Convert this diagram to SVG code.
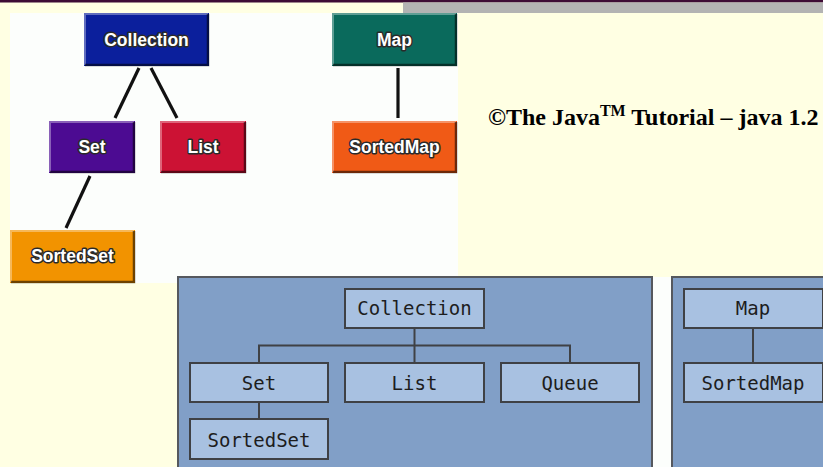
<svg xmlns="http://www.w3.org/2000/svg" width="823" height="467" viewBox="0 0 823 467">
<style>
.tb{font-family:"Liberation Sans",Arial,sans-serif;font-weight:bold;font-size:17.5px;fill:#fff;stroke:#2a2a2a;stroke-width:3;paint-order:stroke;stroke-linejoin:round;text-anchor:middle}
.hl{fill:none;stroke:#fff;stroke-opacity:0.35;stroke-width:2}
.sh{fill:none;stroke:#000;stroke-opacity:0.55;stroke-width:2.5}
.tl{stroke:#111;stroke-width:3.2;fill:none}
.bx{fill:#a8c1e1;stroke:#3f4145;stroke-width:2}
.tm{font-family:"DejaVu Sans Mono","Liberation Mono",monospace;font-size:19px;fill:#1d1d1d;text-anchor:middle}
.cn{stroke:#3f4145;stroke-width:2;fill:none}
.pn{fill:#819fc7;stroke:#55585e;stroke-width:2}
</style>
<rect x="0" y="0" width="823" height="467" fill="#ffffe3"/>
<rect x="0" y="0" width="823" height="2.5" fill="#3d0b35"/>
<rect x="403" y="2.5" width="420" height="10.5" fill="#b3b3b3"/>
<rect x="10" y="13" width="448" height="270" fill="#fcfefc"/>
<rect x="178" y="277" width="645" height="190" fill="#fcfefc"/>

<g id="top-connectors">
<line class="tl" x1="139" y1="68" x2="115" y2="118"/>
<line class="tl" x1="151" y1="68" x2="177" y2="118"/>
<line class="tl" x1="90" y1="176" x2="66" y2="228"/>
<line class="tl" x1="398" y1="68" x2="398" y2="118"/>
</g>

<g id="top-collection">
<rect x="84" y="13" width="125" height="53" fill="#0b1f9c"/>
<polyline class="hl" points="85,65 85,14 208,14"/>
<polyline class="sh" points="85,65 208,65 208,14"/>
<text class="tb" x="146.5" y="46">Collection</text>
</g>
<g id="top-set">
<rect x="49" y="121" width="86" height="52" fill="#4c0b92"/>
<polyline class="hl" points="50,172 50,122 134,122"/>
<polyline class="sh" points="50,172 134,172 134,122"/>
<text class="tb" x="92" y="153">Set</text>
</g>
<g id="top-list">
<rect x="160" y="121" width="86" height="52" fill="#cc1234"/>
<polyline class="hl" points="161,172 161,122 245,122"/>
<polyline class="sh" points="161,172 245,172 245,122"/>
<text class="tb" x="203" y="153">List</text>
</g>
<g id="top-sortedset">
<rect x="10" y="230" width="125" height="53" fill="#f29300"/>
<polyline class="hl" points="11,282 11,231 134,231"/>
<polyline class="sh" points="11,282 134,282 134,231"/>
<text class="tb" x="72.5" y="262">SortedSet</text>
</g>
<g id="top-map">
<rect x="332" y="13" width="125" height="53" fill="#0a6a5c"/>
<polyline class="hl" points="333,65 333,14 456,14"/>
<polyline class="sh" points="333,65 456,65 456,14"/>
<text class="tb" x="394.5" y="46">Map</text>
</g>
<g id="top-sortedmap">
<rect x="332" y="121" width="125" height="52" fill="#f05a16"/>
<polyline class="hl" points="333,172 333,122 456,122"/>
<polyline class="sh" points="333,172 456,172 456,122"/>
<text class="tb" x="394.5" y="153">SortedMap</text>
</g>

<text x="488" y="125" font-family="'Liberation Serif','Times New Roman',serif" font-weight="bold" font-size="24" fill="#000">©The Java<tspan font-size="16" dy="-9">TM</tspan><tspan dy="9"> Tutorial – java 1.2</tspan></text>

<rect class="pn" x="178" y="277" width="474" height="192"/>
<rect class="pn" x="672" y="277" width="160" height="192"/>

<g id="bottom-connectors">
<polyline class="cn" points="414.5,328 414.5,345.5"/>
<polyline class="cn" points="259,363 259,345.5 570,345.5 570,363"/>
<polyline class="cn" points="414.5,345.5 414.5,363"/>
<polyline class="cn" points="259,402 259,419"/>
<polyline class="cn" points="753,328 753,363"/>
</g>

<g id="bot-collection"><rect class="bx" x="345" y="289" width="139" height="39"/><text class="tm" x="414.5" y="315">Collection</text></g>
<g id="bot-set"><rect class="bx" x="190" y="363" width="138" height="39"/><text class="tm" x="259" y="390">Set</text></g>
<g id="bot-list"><rect class="bx" x="345" y="363" width="139" height="39"/><text class="tm" x="414.5" y="390">List</text></g>
<g id="bot-queue"><rect class="bx" x="501" y="363" width="138" height="39"/><text class="tm" x="570" y="390">Queue</text></g>
<g id="bot-sortedset"><rect class="bx" x="190" y="419" width="138" height="40"/><text class="tm" x="259" y="447">SortedSet</text></g>
<g id="bot-map"><rect class="bx" x="684" y="289" width="139" height="39"/><text class="tm" x="753" y="315">Map</text></g>
<g id="bot-sortedmap"><rect class="bx" x="684" y="363" width="139" height="39"/><text class="tm" x="753" y="390">SortedMap</text></g>
</svg>
